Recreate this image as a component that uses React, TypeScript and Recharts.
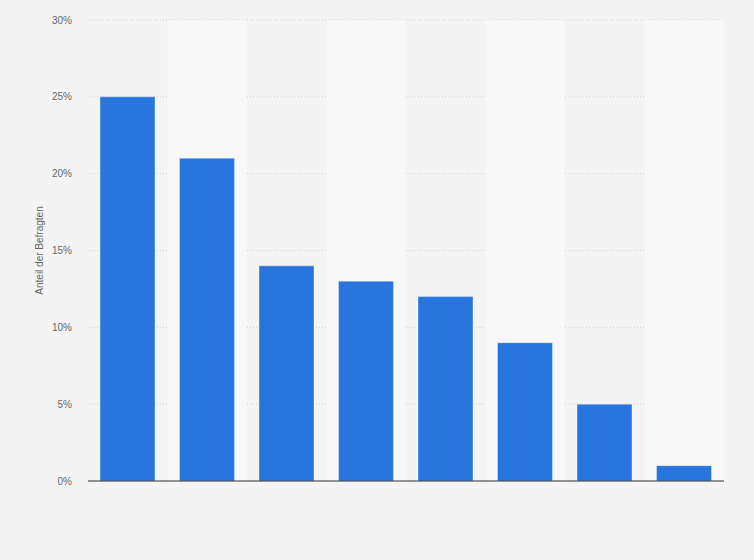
import React from "react";
import { BarChart, Bar, XAxis, YAxis, CartesianGrid, ReferenceArea } from "recharts";

const categories = ["Kat. 1", "Kat. 2", "Kat. 3", "Kat. 4", "Kat. 5", "Kat. 6", "Kat. 7", "Kat. 8"];
const shares = [25, 21, 14, 13, 12, 9, 5, 1];
const yTicks = [0, 5, 10, 15, 20, 25, 30];

const data = categories.map((name, i) => ({ name, value: shares[i] }));

export default function App() {
  return (
    <div style={{ position: "absolute", left: 0, top: 0, width: 754, height: 560, background: "#f4f4f4" }}>
      <BarChart
        width={754}
        height={560}
        data={data}
        margin={{ top: 20, right: 30, bottom: 78, left: 1 }}
        style={{ fontFamily: "'Liberation Sans', Arial, sans-serif" }}
      >
        {categories.map((c, i) =>
          i % 2 === 1 ? (
            <ReferenceArea key={c} x1={c} x2={c} fill="#f8f8f8" fillOpacity={1} stroke="none" ifOverflow="visible" />
          ) : null
        )}
        <CartesianGrid vertical={false} stroke="#cfcfcf" strokeDasharray="1 2" />
        <XAxis dataKey="name" tick={false} tickLine={false} height={1} axisLine={{ stroke: "#333333", strokeWidth: 1 }} />
        <YAxis
          width={87}
          domain={[0, 30]}
          ticks={yTicks}
          tickFormatter={(v) => `${v}%`}
          axisLine={false}
          tickLine={false}
          tickSize={0}
          tickMargin={16}
          tick={{ fill: "#666666", fontSize: 10 }}
          label={{
            value: "Anteil der Befragten",
            angle: -90,
            position: "insideLeft",
            offset: 38,
            style: { textAnchor: "middle", fill: "#666666", fontSize: 10 },
          }}
        />
        <Bar dataKey="value" fill="#2876dd" barSize={55} stroke="#ffffff" strokeOpacity={0.35} isAnimationActive={false} />
      </BarChart>
    </div>
  );
}
